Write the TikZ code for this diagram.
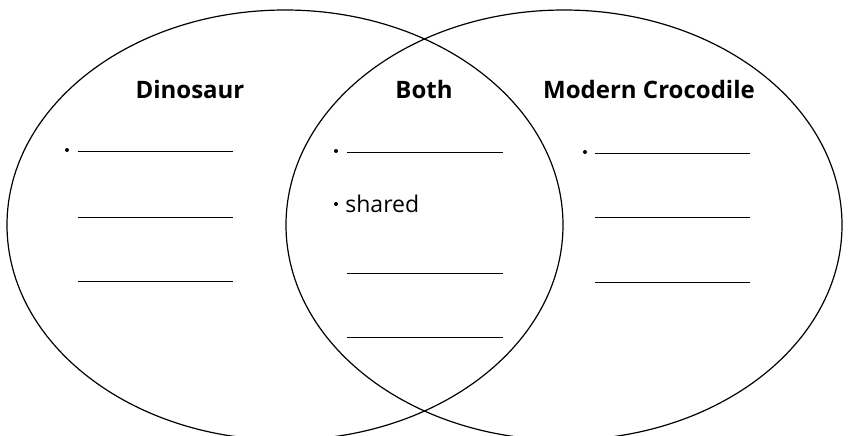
\documentclass[tikz,border=0pt]{standalone}
\usepackage{fontspec}
\setmainfont{Open Sans}
\usetikzlibrary{shapes.geometric, positioning}
\tikzset{
  circle set/.style={ellipse, draw=black, line width=1.2pt, minimum width=556pt, minimum height=430pt, inner sep=0pt},
  heading/.style={anchor=base, font=\fontsize{24}{28}\selectfont\bfseries},
  entry/.style={anchor=base west, font=\fontsize{23}{27}\selectfont, inner sep=0pt},
  blank/.style={draw=black, line width=0.8pt},
  dot/.style={circle, fill=black, inner sep=0pt, minimum size=4pt}
}
\begin{document}
\begin{tikzpicture}[x=1pt, y=-1pt]
    \useasboundingbox (0,0) rectangle (848,436);
    \clip (0,0) rectangle (848,436);

    % Mengen
    \node (dino) [circle set] at (285,225) {};
    \node (croc) [circle set] at (564,225) {};

    % Ueberschriften
    \node (tdino) [heading] at (190,98) {Dinosaur};
    \node (tboth) [heading] at (424,98) {Both};
    \node (tcroc) [heading] at (649,98) {Modern Crocodile};

    % Aufzaehlungspunkte
    \node (bdino) [dot] at (67,150) {};
    \node (bboth) [dot] at (336,151) {};
    \node (bcroc) [dot] at (585,152) {};
    \node (bshared) [dot] at (336,204) {};
    \node (shared) [entry, right=7pt of bshared.east, anchor=west] {shared};

    % Leerzeilen
    \foreach \y in {151,217,281}
      \draw [blank] (78,\y) -- (233,\y);
    \foreach \y in {152,273,337}
      \draw [blank] (347,\y) -- (503,\y);
    \foreach \y in {153,217,282}
      \draw [blank] (595,\y) -- (750,\y);

\end{tikzpicture}
\end{document}
